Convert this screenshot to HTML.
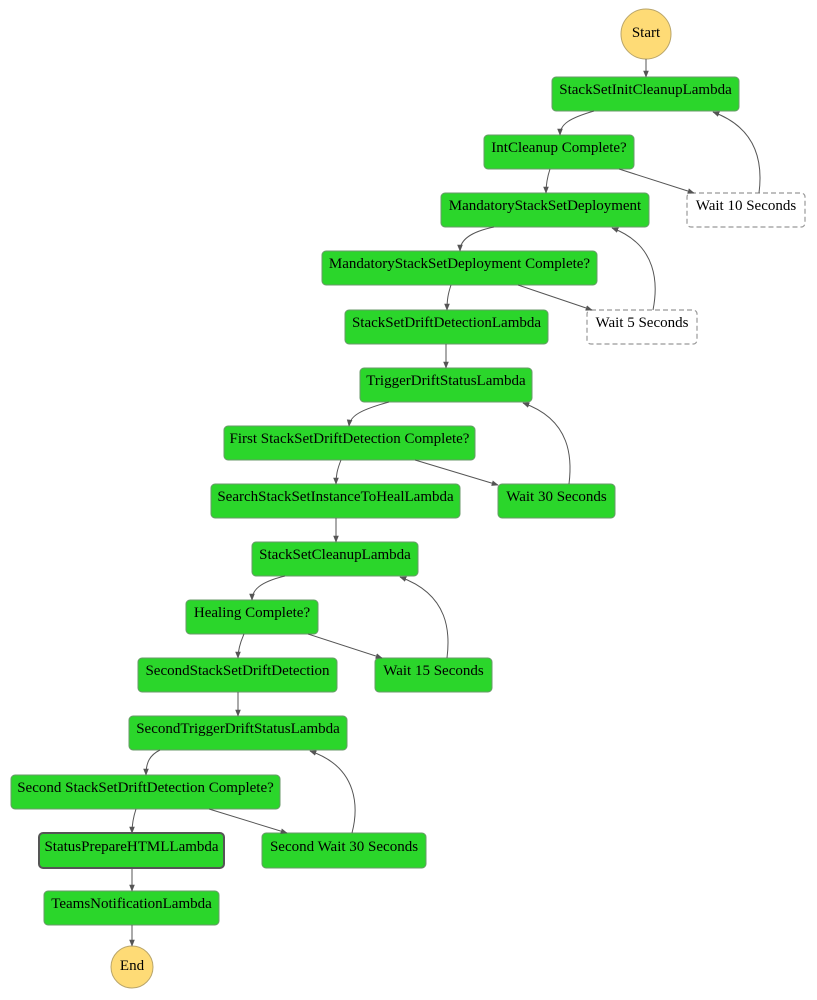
<!DOCTYPE html>
<html><head><meta charset="utf-8"><style>
html,body{margin:0;padding:0;background:#fff;}
svg{display:block;}
text{font-family:"Liberation Serif",serif;font-size:15px;fill:#000;}
.b{fill:#2bd62b;stroke:#6a9a6a;stroke-width:1;}
.w{fill:#fff;stroke:#999;stroke-width:1.2;stroke-dasharray:5,3;}
.e{fill:none;stroke:#555;stroke-width:1;marker-end:url(#a);}
</style></head><body>
<svg width="817" height="1000" viewBox="0 0 817 1000">
<defs><marker id="a" viewBox="0 0 10 10" refX="9" refY="5" markerWidth="7" markerHeight="7" orient="auto"><path d="M0,1 L10,5 L0,9 z" fill="#555"/></marker></defs>

<circle cx="646" cy="34" r="25" fill="#fedb76" stroke="#b9a56a"/>
<text x="646" y="37" text-anchor="middle">Start</text>

<rect class="b" x="552" y="77" width="187" height="34" rx="4"/><text x="645.5" y="94" text-anchor="middle">StackSetInitCleanupLambda</text>
<rect class="b" x="484" y="135" width="150" height="34" rx="4"/><text x="559" y="152" text-anchor="middle">IntCleanup Complete?</text>
<rect class="b" x="441" y="193" width="208" height="34" rx="4"/><text x="545" y="210" text-anchor="middle">MandatoryStackSetDeployment</text>
<rect class="w" x="687" y="193" width="118" height="34" rx="4"/><text x="746" y="210" text-anchor="middle">Wait 10 Seconds</text>
<rect class="b" x="322" y="251" width="275" height="34" rx="4"/><text x="459.5" y="268" text-anchor="middle">MandatoryStackSetDeployment Complete?</text>
<rect class="b" x="345" y="310" width="203" height="34" rx="4"/><text x="446.5" y="327" text-anchor="middle">StackSetDriftDetectionLambda</text>
<rect class="w" x="587" y="310" width="110" height="34" rx="4"/><text x="642" y="327" text-anchor="middle">Wait 5 Seconds</text>
<rect class="b" x="360" y="368" width="172" height="34" rx="4"/><text x="446" y="385" text-anchor="middle">TriggerDriftStatusLambda</text>
<rect class="b" x="224" y="426" width="251" height="34" rx="4"/><text x="349.5" y="443" text-anchor="middle">First StackSetDriftDetection Complete?</text>
<rect class="b" x="211" y="484" width="249" height="34" rx="4"/><text x="335.5" y="501" text-anchor="middle">SearchStackSetInstanceToHealLambda</text>
<rect class="b" x="498" y="484" width="117" height="34" rx="4"/><text x="556.5" y="501" text-anchor="middle">Wait 30 Seconds</text>
<rect class="b" x="252" y="542" width="166" height="34" rx="4"/><text x="335" y="559" text-anchor="middle">StackSetCleanupLambda</text>
<rect class="b" x="186" y="600" width="132" height="34" rx="4"/><text x="252" y="617" text-anchor="middle">Healing Complete?</text>
<rect class="b" x="138" y="658" width="199" height="34" rx="4"/><text x="237.5" y="675" text-anchor="middle">SecondStackSetDriftDetection</text>
<rect class="b" x="375" y="658" width="117" height="34" rx="4"/><text x="433.5" y="675" text-anchor="middle">Wait 15 Seconds</text>
<rect class="b" x="129" y="716" width="218" height="34" rx="4"/><text x="238" y="733" text-anchor="middle">SecondTriggerDriftStatusLambda</text>
<rect class="b" x="11" y="775" width="269" height="34" rx="4"/><text x="145.5" y="792" text-anchor="middle">Second StackSetDriftDetection Complete?</text>
<rect class="b" x="39" y="833" width="185" height="35" rx="4" style="stroke:#555;stroke-width:2"/><text x="131.5" y="851" text-anchor="middle">StatusPrepareHTMLLambda</text>
<rect class="b" x="262" y="833" width="164" height="35" rx="4"/><text x="344" y="851" text-anchor="middle">Second Wait 30 Seconds</text>
<rect class="b" x="44" y="891" width="175" height="34" rx="4"/><text x="131.5" y="908" text-anchor="middle">TeamsNotificationLambda</text>

<circle cx="132" cy="967" r="21" fill="#fedb76" stroke="#b9a56a"/>
<text x="132" y="970" text-anchor="middle">End</text>

<path class="e" d="M646,59 L646,77"/>
<path class="e" d="M594,111 C570,118 560,124 560,135"/>
<path class="e" d="M550,169 C547,178 546,184 546,193"/>
<path class="e" d="M619,169 L694,193"/>
<path class="e" d="M759,193 C762,170 762,130 713,112"/>
<path class="e" d="M494,227 C470,232 460,240 460,251"/>
<path class="e" d="M451,285 C448,294 447,300 447,310"/>
<path class="e" d="M518,285 L592,310"/>
<path class="e" d="M653,310 C658,285 658,245 612,228"/>
<path class="e" d="M446,344 L446,368"/>
<path class="e" d="M389,402 C360,410 350,416 349,426"/>
<path class="e" d="M341,460 C337,470 336,476 336,484"/>
<path class="e" d="M415,460 L498,485"/>
<path class="e" d="M569,484 C572,460 572,420 523,403"/>
<path class="e" d="M336,518 L336,542"/>
<path class="e" d="M285,576 C260,582 252,590 252,600"/>
<path class="e" d="M244,634 C240,643 238,650 238,658"/>
<path class="e" d="M308,634 L382,658"/>
<path class="e" d="M447,658 C450,634 450,595 400,577"/>
<path class="e" d="M238,692 L238,716"/>
<path class="e" d="M160,750 C150,755 146,762 146,775"/>
<path class="e" d="M136,809 C133,818 132,825 132,833"/>
<path class="e" d="M209,809 L287,833"/>
<path class="e" d="M352,833 C358,810 360,768 310,751"/>
<path class="e" d="M132,868 L132,891"/>
<path class="e" d="M132,925 L132,946"/>
</svg>
</body></html>
